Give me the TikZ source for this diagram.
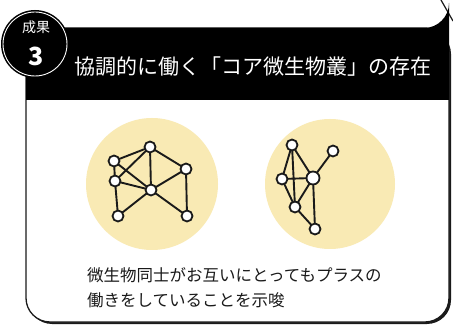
\documentclass[tikz,border=0pt]{standalone}
\usepackage{fontspec}
\setmainfont{Noto Sans CJK JP}
\definecolor{pale}{HTML}{F9EAB4}
\definecolor{ink}{HTML}{1A1A1A}
\tikzset{
  gnode/.style={circle,draw=ink,fill=white,line width=1.8pt,inner sep=0pt,minimum size=11pt},
  bignode/.style={gnode,minimum size=13pt},
  gedge/.style={draw=ink,line width=1.9pt},
  bubble/.style={fill=pale},
}
\begin{document}
\begin{tikzpicture}[x=1pt,y=-1pt]
\useasboundingbox (0,0) rectangle (453,326);
% background diagonal stroke
\draw[ink,line width=1.2pt] (441,0) -- (453,21);
% shadow
\fill[ink,rounded corners=24pt] (28,30) rectangle (451,324);
% card
\draw[ink,line width=1.3pt,fill=white,rounded corners=24pt] (26,28) -- (26,322) -- (449,322) -- (449,28) -- cycle;
% header
\fill[black] (26,28) -- (424,28) arc[start angle=90,end angle=0,radius=25] -- (449,100) -- (26,100) -- cycle;
% badge
\fill[black] (35,44) circle[radius=34];
\draw[white,line width=0.9pt] (35,44) circle[radius=32];
\node[text=white,font=\fontsize{14}{14}\selectfont] (badgetop) at (36,27) {成果};
\node[text=white,font=\fontsize{25}{25}\selectfont\bfseries] (badgenum) at (36,56) {3};
\node[text=white,font=\fontsize{21}{21}\selectfont,anchor=west,inner sep=0pt] (title) at (74,67) {協調的に働く「コア微生物叢」の存在};
% bubbles
\fill[bubble] (152,184) circle[radius=66];
\fill[bubble] (330,184) circle[radius=65];
% left graph
\coordinate (pA) at (150,147);
\coordinate (pB) at (114,161);
\coordinate (pC) at (115,181);
\coordinate (pD) at (186,169);
\coordinate (pE) at (151,190);
\coordinate (pF) at (118,216);
\coordinate (pG) at (187,216);
\foreach \u/\v in {A/B,A/C,A/D,A/E,B/C,B/E,C/E,C/F,D/E,D/G,E/F,E/G}
  \draw[gedge] (p\u) -- (p\v);
\foreach \n in {A,B,C,D,E,F,G}
  \node[gnode] (n\n) at (p\n) {};
% right graph
\coordinate (qP) at (292,145);
\coordinate (qQ) at (333,151);
\coordinate (qR) at (282,179);
\coordinate (qS) at (313,178);
\coordinate (qT) at (295,207);
\coordinate (qU) at (315,229);
\foreach \u/\v in {P/R,P/T,P/S,R/S,R/T,S/Q,S/T,S/U,T/U}
  \draw[gedge] (q\u) -- (q\v);
\foreach \n in {P,Q,R,T,U}
  \node[gnode] (m\n) at (q\n) {};
\node[bignode] (mS) at (qS) {};
% caption
\node[text=ink,font=\fontsize{16.5}{25}\selectfont,anchor=north west,align=left,inner sep=0pt] (caption) at (87,267) {微生物同士がお互いにとってもプラスの\\働きをしていることを示唆};
\end{tikzpicture}
\end{document}
